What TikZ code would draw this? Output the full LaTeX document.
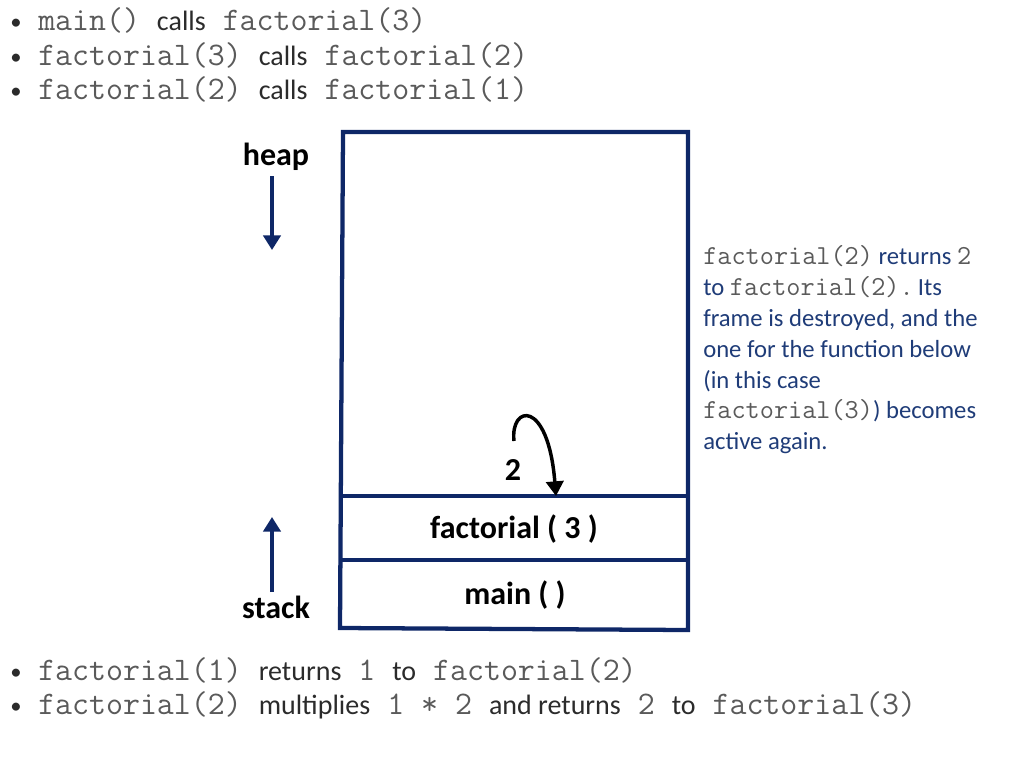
\documentclass[tikz,border=0pt]{standalone}
\usepackage{fontspec}
\setmainfont{Carlito}
\usetikzlibrary{arrows.meta}
\definecolor{navy}{HTML}{0E2767}
\definecolor{monogray}{HTML}{5A5A5A}
\definecolor{darktxt}{HTML}{2B2B2B}
\definecolor{bluetxt}{HTML}{1F3C78}
\tikzset{
  line/.style={anchor=base west, inner sep=0pt, font=\fontsize{21}{25}\selectfont, text=darktxt},
  rline/.style={anchor=base west, inner sep=0pt, font=\fontsize{18.5}{22}\selectfont, text=bluetxt},
  bul/.style={anchor=base west, inner sep=0pt, font=\fontsize{17}{20}\selectfont, text=darktxt},
  boxline/.style={draw=navy, line width=3.2pt},
  bigbold/.style={inner sep=0pt, font=\fontsize{24}{28}\selectfont\bfseries, text=black},
  vert/.style={draw=navy, line width=2.6pt, -{Triangle[length=11pt,width=13pt]}},
}
\newcommand{\mm}[1]{{\ttfamily\color{monogray}\fontsize{24.7}{27}\selectfont #1}}
\newcommand{\mr}[1]{{\ttfamily\color{monogray}\fontsize{20.6}{23}\selectfont #1}}
\begin{document}
\begin{tikzpicture}[x=0.75pt,y=-0.75pt]
\useasboundingbox (0,0) rectangle (1024,768);
% top bullets
\node[bul] (b1) at (10,29) {•};
\node[bul] (b2) at (10,64) {•};
\node[bul] (b3) at (10,98) {•};
\node[line] (l1) at (38,30) {\mm{main()~}calls\mm{~factorial(3)}};
\node[line] (l2) at (38,65) {\mm{factorial(3)~}calls\mm{~factorial(2)}};
\node[line] (l3) at (38,99) {\mm{factorial(2)~}calls\mm{~factorial(1)}};
% box
\draw[boxline] (343,132) -- (688,132) -- (688,630) -- (340,628) -- cycle;
\draw[boxline] (340,496) -- (688,496);
\draw[boxline] (340,560) -- (688,560);
\coordinate (topline) at (556,496);
% labels
\node[bigbold] (heap) at (276,157) {heap};
\node[bigbold] (stack) at (276,607) {stack};
\coordinate (hs) at (272,176);
\coordinate (he) at (272,250);
\coordinate (ss) at (272,592);
\coordinate (se) at (272,517);
\draw[vert] (hs) -- (he);
\draw[vert] (ss) -- (se);
\node[bigbold] (f3) at (514,529) {factorial ( 3 )};
\node[bigbold] (mainf) at (515,595) {main ( )};
\node[bigbold] (two) at (513,470) {2};
\coordinate (cs) at (514,441);
\draw[line width=2.6pt, black, -{Triangle[length=11pt,width=13pt]}] (cs) .. controls (510,405) and (548,398) .. (topline);
% right text
\node[rline] (r1) at (703,264) {\mr{factorial(2)} returns \mr{2}};
\node[rline] (r2) at (703,295) {to \mr{factorial(2).}\,Its};
\node[rline] (r3) at (703,326) {frame is destroyed, and the};
\node[rline] (r4) at (703,357) {one for the function below};
\node[rline] (r5) at (703,388) {(in this case};
\node[rline] (r6) at (703,418) {\mr{factorial(3)}) becomes};
\node[rline] (r7) at (703,449) {active again.};
% bottom bullets
\node[bul] (b4) at (10,679) {•};
\node[bul] (b5) at (10,713) {•};
\node[line] (l4) at (38,680) {\mm{factorial(1)~}returns\mm{~1~}to\mm{~factorial(2)}};
\node[line] (l5) at (38,714) {\mm{factorial(2)~}multiplies\mm{~1~*~2~}and returns\mm{~2~}to\mm{~factorial(3)}};
\end{tikzpicture}
\end{document}
